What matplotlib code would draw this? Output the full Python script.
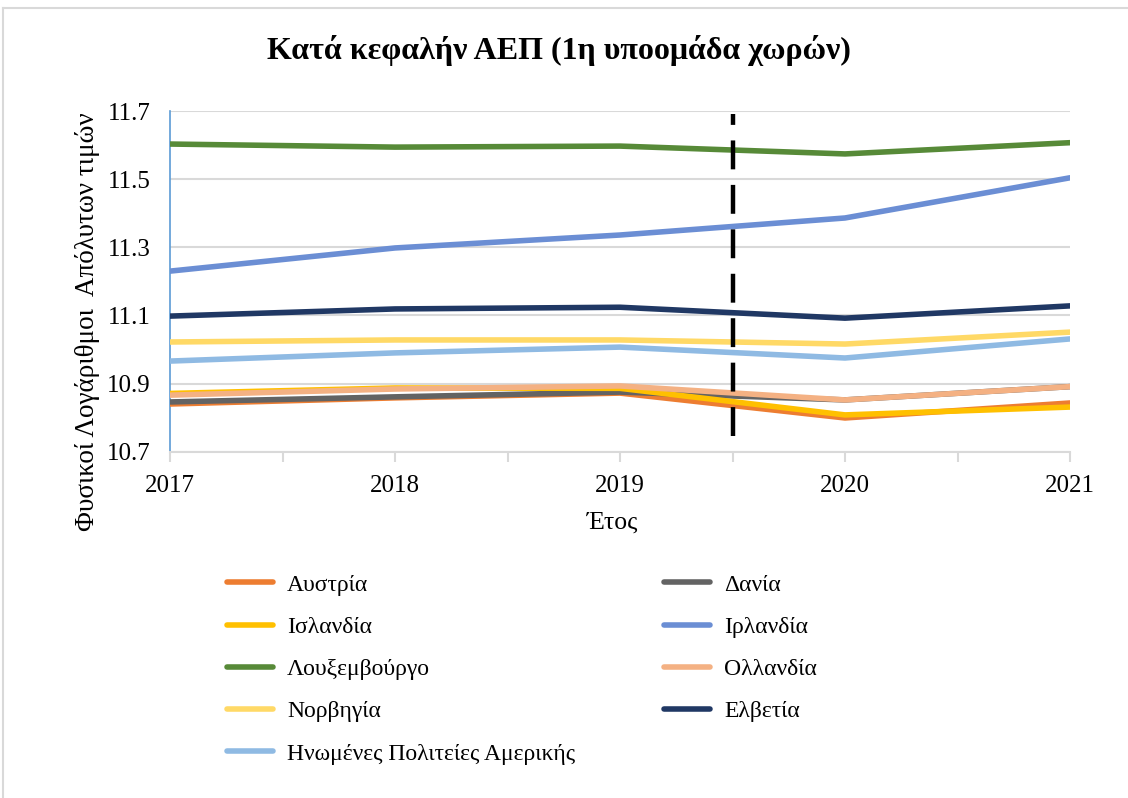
import matplotlib
matplotlib.use('Agg')
import matplotlib.pyplot as plt
from matplotlib.lines import Line2D

plt.rcParams['font.family'] = ['Liberation Serif', 'DejaVu Serif']

years = [2017, 2018, 2019, 2020, 2021]

austria = [10.840, 10.858, 10.872, 10.799, 10.843]
denmark = [10.846, 10.861, 10.875, 10.852, 10.891]
iceland = [10.871, 10.887, 10.886, 10.808, 10.831]
ireland = [11.230, 11.298, 11.336, 11.386, 11.504]
luxembourg = [11.603, 11.594, 11.597, 11.574, 11.607]
netherlands = [10.866, 10.884, 10.893, 10.852, 10.891]
norway = [11.022, 11.028, 11.028, 11.016, 11.051]
switzerland = [11.098, 11.119, 11.124, 11.092, 11.128]
usa = [10.966, 10.990, 11.007, 10.975, 11.031]

names = ['Αυστρία', 'Δανία', 'Ισλανδία', 'Ιρλανδία', 'Λουξεμβούργο',
         'Ολλανδία', 'Νορβηγία', 'Ελβετία', 'Ηνωμένες Πολιτείες Αμερικής']
series = [austria, denmark, iceland, ireland, luxembourg,
          netherlands, norway, switzerland, usa]
colors = ['#ED7D31', '#636363', '#FFC000', '#6B8ED4', '#578A38',
          '#F4B183', '#FFD966', '#203864', '#8FBAE3']

yticks = [10.7, 10.9, 11.1, 11.3, 11.5, 11.7]
break_year = 2019.5

fig = plt.figure(figsize=(11.28, 7.98), dpi=100)
ax = fig.add_axes([170 / 1128, 1 - 451.7 / 798, 900 / 1128, 340.7 / 798])

lines = []
for vals, c in zip(series, colors):
    ln, = ax.plot(years, vals, color=c, lw=4, solid_capstyle='round', zorder=3)
    lines.append(ln)

ax.plot([break_year, break_year], [10.745, 11.69], color='black', lw=3.2,
        dashes=(6.5, 3.5), zorder=4)

ax.set_xlim(2017, 2021)
ax.set_ylim(10.7, 11.7)
ax.set_yticks(yticks)
ax.set_yticklabels([f'{v:.1f}' for v in yticks])
ax.set_xticks(years)
ax.set_xticks([2017.5, 2018.5, 2019.5, 2020.5], minor=True)
ax.grid(axis='y', color='#D9D9D9', lw=1.5, zorder=0)
ax.tick_params(axis='y', length=0, labelsize=18, pad=14)
ax.tick_params(axis='x', which='both', length=7, width=1.5, color='#D9D9D9',
               labelsize=18, pad=10)

for s in ['top', 'right']:
    ax.spines[s].set_visible(False)
ax.spines['left'].set_color('#5B9BD5')
ax.spines['left'].set_linewidth(1.2)
ax.spines['bottom'].set_color('#D9D9D9')
ax.spines['bottom'].set_linewidth(1.5)

fig.text(559 / 1128, 1 - 50 / 798, 'Κατά κεφαλήν ΑΕΠ (1η υποομάδα χωρών)',
         ha='center', va='center', fontsize=23, fontweight='bold')
fig.text(88 / 1128, 1 - 322 / 798, 'Φυσικοί Λογάριθμοι  Απόλυτων τιμών',
         rotation=90, ha='center', va='center', fontsize=19.5)
fig.text(613 / 1128, 1 - 523 / 798, 'Έτος', ha='center', va='center', fontsize=18.5)

# legend: Excel fills row by row, so split into two columns
left_idx = [0, 2, 4, 6, 8]
right_idx = [1, 3, 5, 7]
leg_kw = dict(frameon=False, fontsize=17, handlelength=1.95, handletextpad=0.6,
              labelspacing=0.88, borderaxespad=0, borderpad=0, loc='upper left')
fig.legend([lines[i] for i in left_idx], [names[i] for i in left_idx],
           bbox_to_anchor=(227 / 1128, 1 - 574 / 798), **leg_kw)
fig.legend([lines[i] for i in right_idx], [names[i] for i in right_idx],
           bbox_to_anchor=(664 / 1128, 1 - 574 / 798), **leg_kw)

# chart-area border
fig.add_artist(Line2D([3 / 1128, 1], [1 - 8 / 798, 1 - 8 / 798], color='#D9D9D9', lw=1.5))
fig.add_artist(Line2D([3 / 1128, 3 / 1128], [0, 1 - 8 / 798], color='#D9D9D9', lw=1.5))

fig.savefig('out.png', dpi=100)
